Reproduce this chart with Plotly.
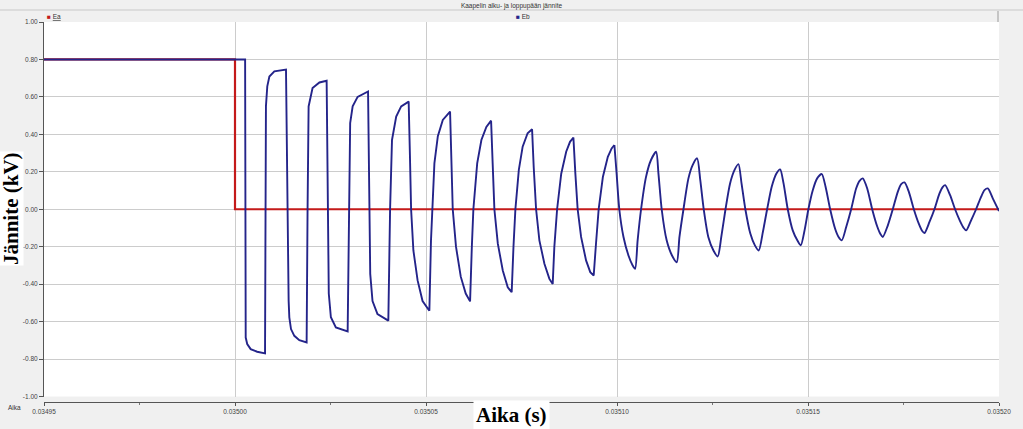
import plotly.graph_objects as go

# ---- data (time given in microseconds after t0 = 0.035 s) ----
T0 = 0.035
ea_us = [-50.0, 0.0, 0.0, 200.0]
ea_kv = [0.80, 0.80, 0.0, 0.0]

eb_us = [-50, 2.65, 2.8, 3.2, 4.1, 5.8, 7.86,
         8.1, 8.45, 9.0, 10.3, 13.35,
         14.04, 14.22, 14.66, 15.53, 16.84, 18.75,
         19.0, 19.27, 20.3, 22.1, 23.99,
         24.25, 24.55, 25.1, 26.4, 29.49,
         29.8, 30.15, 30.8, 32.1, 34.83,
         35.1, 35.4, 36.0, 37.3, 40.14,
         40.6, 41.1, 42.2, 43.5, 45.46,
         45.8, 46.1, 46.7, 47.8, 49.1, 50.88,
         51.3, 51.6, 52.2, 53.1, 54.4, 56.30,
         56.55, 57.0, 57.85, 59.1, 60.4, 61.54,
         62.0, 62.4, 63.4, 64.5, 65.8, 67.04,
         67.45, 67.9, 68.8, 70.1, 71.4, 72.43,
         72.9, 73.4, 74.3, 75.3, 76.6, 77.77,
         78.19, 78.82, 79.68, 81.0, 82.3, 83.17,
         83.6, 84.32, 85.4, 86.7, 87.7, 88.59,
         89.1, 89.7, 90.6, 91.9, 93.0, 93.9,
         94.5, 95.2, 96.3, 97.6, 98.6, 99.32,
         99.9, 100.6, 101.7, 103.0, 104.1, 104.74,
         105.4, 106.3, 107.6, 108.9, 110.24,
         110.85, 111.7, 113.0, 114.4, 115.64,
         116.35, 117.4, 118.7, 119.8, 120.98,
         121.8, 122.7, 123.9, 125.25, 126.37,
         127.3, 128.4, 129.6, 130.75, 131.79,
         132.6, 133.6, 134.9, 136.1, 137.11,
         138.2, 139.3, 140.5, 141.7, 142.71,
         143.6, 144.7, 146.0, 147.2, 148.11,
         149.1, 150.1, 151.25, 152.4, 153.61,
         154.6, 155.8, 157.1, 158.0, 158.85,
         160.0, 161.3, 162.6, 163.5, 164.34,
         165.5, 166.8, 168.1, 169.0, 169.58,
         170.9, 172.2, 173.5, 174.4, 175.26,
         176.4, 177.7, 179.0, 179.9, 180.5,
         181.8, 183.1, 184.4, 185.3, 185.92,
         187.2, 188.5, 189.8, 190.7, 191.42,
         192.7, 194.0, 195.3, 196.2, 197.08,
         198.4, 200.0]

eb_kv = [0.80, 0.80, -0.685, -0.72, -0.747, -0.761, -0.770,
         0.55, 0.656, 0.709, 0.736, 0.746,
         -0.488, -0.577, -0.640, -0.676, -0.699, -0.711,
         0.01, 0.549, 0.647, 0.677, 0.686,
         0.0, -0.45, -0.577, -0.631, -0.652,
         0.0, 0.46, 0.55, 0.60, 0.629,
         0.0, -0.345, -0.49, -0.56, -0.595,
         0.0, 0.37, 0.495, 0.549, 0.575,
         0.28, 0.0, -0.22, -0.38, -0.49, -0.542,
         -0.17, 0.0, 0.245, 0.39, 0.477, 0.522,
         0.28, 0.0, -0.20, -0.36, -0.45, -0.492,
         -0.2, 0.0, 0.245, 0.37, 0.44, 0.473,
         0.245, 0.0, -0.184, -0.327, -0.417, -0.443,
         -0.2, 0.0, 0.21, 0.334, 0.406, 0.427,
         0.227, 0.0, -0.166, -0.291, -0.372, -0.399,
         -0.2, 0.0, 0.19, 0.307, 0.36, 0.383,
         0.19, 0.0, -0.148, -0.273, -0.336, -0.354,
         -0.184, 0.0, 0.172, 0.28, 0.325, 0.343,
         0.19, 0.0, -0.148, -0.247, -0.30, -0.318,
         -0.166, 0.0, 0.173, 0.263, 0.307,
         0.19, 0.0, -0.166, -0.247, -0.283,
         -0.148, 0.0, 0.165, 0.236, 0.272,
         0.155, 0.0, -0.148, -0.22, -0.252,
         -0.148, 0.0, 0.138, 0.209, 0.241,
         0.138, 0.0, -0.13, -0.193, -0.220,
         -0.12, 0.0, 0.12, 0.19, 0.213,
         0.138, 0.0, -0.113, -0.166, -0.193,
         -0.113, 0.0, 0.102, 0.165, 0.188,
         0.12, 0.0, -0.104, -0.148, -0.166,
         -0.095, 0.0, 0.111, 0.152, 0.165,
         0.111, 0.0, -0.091, -0.134, -0.148,
         -0.086, 0.0, 0.093, 0.134, 0.143,
         0.093, 0.0, -0.077, -0.116, -0.127,
         -0.068, 0.0, 0.084, 0.12, 0.129,
         0.075, 0.0, -0.063, -0.098, -0.113,
         -0.059, 0.0, 0.066, 0.102, 0.111,
         0.057, -0.01]

x_tickvals = [0.03495, 0.03500, 0.03505, 0.03510, 0.03515, 0.03520]
x_ticktext = ["0.03495", "0.03500", "0.03505", "0.03510", "0.03515", "0.03520"]
y_tickvals = [1.0, 0.8, 0.6, 0.4, 0.2, 0.0, -0.2, -0.4, -0.6, -0.8, -1.0]
y_ticktext = ["1.00", "0.80", "0.60", "0.40", "0.20", "0.00", "-0.20", "-0.40", "-0.60", "-0.80", "-1.00"]

RED = "#c41a1a"
BLUE = "#24248a"

ea_t = [T0 + u * 1e-6 for u in ea_us]
eb_t = [T0 + u * 1e-6 for u in eb_us]

# the early (square-like) part is drawn with straight segments, the later
# sinusoidal part with the library's spline smoothing
split = eb_us.index(99.32)

fig = go.Figure()
fig.add_trace(go.Scatter(x=ea_t, y=ea_kv, mode="lines", name="Ea",
                         line=dict(color=RED, width=2.2)))
fig.add_trace(go.Scatter(x=eb_t[:split + 1], y=eb_kv[:split + 1], mode="lines", name="Eb",
                         legendgroup="Eb", line=dict(color=BLUE, width=1.9)))
fig.add_trace(go.Scatter(x=eb_t[split:], y=eb_kv[split:], mode="lines", name="Eb",
                         legendgroup="Eb", showlegend=False,
                         line=dict(color=BLUE, width=1.9, shape="spline", smoothing=0.7)))

W, H = 1023, 429
L, R, T, B = 44, 24, 22, 27   # paper box: x 44..999, y 22..402
ph = H - T - B

def py(pix):
    return (H - B - pix) / ph

def px(pix):
    return (pix - L) / (W - L - R)

tickfont = dict(family="Liberation Sans, Arial, sans-serif", size=6.5, color="#444444")

fig.update_layout(
    width=W, height=H,
    margin=dict(l=L, r=R, t=T, b=B, pad=0),
    paper_bgcolor="#f0f0f0",
    plot_bgcolor="#ffffff",
    showlegend=False,
    title=dict(text="Kaapelin alku- ja loppupään jännite", x=0.5, xanchor="center",
               y=1 - 5.5 / H, yanchor="middle",
               font=dict(family="Liberation Sans, Arial, sans-serif", size=6.5, color="#333333")),
    xaxis=dict(range=[0.03495, 0.03520], tickvals=x_tickvals, ticktext=x_ticktext,
               anchor="free", position=0, showline=True, linecolor="#555555", linewidth=1,
               ticks="outside", ticklen=3, tickcolor="#555555",
               minor=dict(dtick=0.000025, tick0=0.03495, ticks="outside", ticklen=2,
                          tickcolor="#777777", showgrid=False),
               showgrid=True, gridcolor="#cccccc", gridwidth=1, zeroline=False,
               tickfont=tickfont),
    yaxis=dict(range=[-1.0, 1.0], domain=[py(396.5), 1], tickvals=y_tickvals, ticktext=y_ticktext,
               showline=True, linecolor="#555555", linewidth=1,
               ticks="outside", ticklen=4, tickcolor="#555555",
               showgrid=True, gridcolor="#cccccc", gridwidth=1, zeroline=False,
               tickfont=tickfont),
)

# header separator and legend band
fig.add_shape(type="line", xref="paper", yref="paper", x0=px(0), x1=px(W), y0=py(10), y1=py(10),
              line=dict(color="#c8c8c8", width=1))
fig.add_shape(type="line", xref="paper", yref="paper", x0=px(998), x1=px(998), y0=py(22), y1=py(11),
              line=dict(color="#9a9a9a", width=1))

legend_font = dict(family="Liberation Sans, Arial, sans-serif", size=6.5, color="#333333")
fig.add_annotation(x=px(45), y=py(16.5), xref="paper", yref="paper", xanchor="left", yanchor="middle",
                   text=f"<span style='color:{RED}'>■</span> <u>Ea</u>", showarrow=False, font=legend_font)
fig.add_annotation(x=px(514), y=py(16.5), xref="paper", yref="paper", xanchor="left", yanchor="middle",
                   text=f"<span style='color:{BLUE}'>■</span> Eb", showarrow=False, font=legend_font)

fig.add_annotation(x=px(6), y=py(407), xref="paper", yref="paper", xanchor="left", yanchor="middle",
                   text="Aika", showarrow=False, font=legend_font)

big = dict(family="Liberation Serif, Times New Roman, serif", size=21, color="#000000")
fig.add_annotation(x=px(511), y=py(400), xref="paper", yref="paper", xanchor="center", yanchor="top",
                   text="<b>Aika (s)</b>", showarrow=False, font=big, bgcolor="#ffffff", borderpad=2)
fig.add_annotation(x=px(11), y=py(209), xref="paper", yref="paper", xanchor="center", yanchor="middle",
                   text="<b>Jännite (kV)</b>", textangle=-90, showarrow=False, font=dict(big, size=21),
                   bgcolor="#ffffff", borderpad=0)

fig.write_html("out.html", config={"displayModeBar": False},
               post_script="document.body.style.margin='0';document.body.style.overflow='hidden';")
